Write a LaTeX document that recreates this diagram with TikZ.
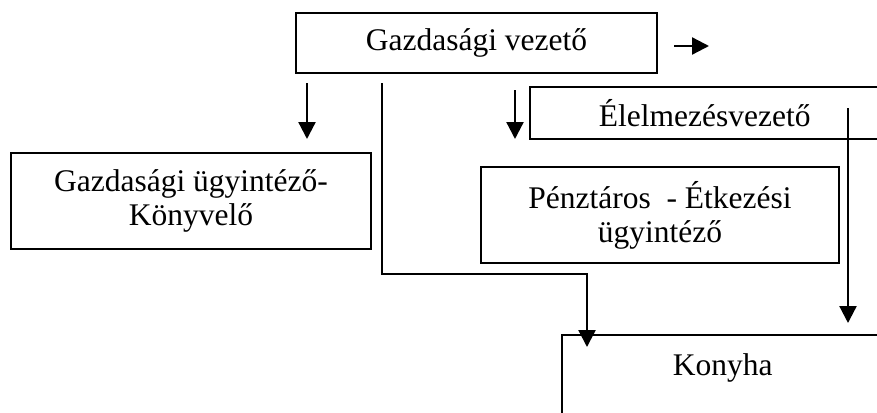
\documentclass[tikz,border=0pt]{standalone}
\usepackage{fontspec}
\setmainfont{Liberation Serif}
\usetikzlibrary{arrows.meta}
\begin{document}
\begin{tikzpicture}[x=1pt,y=-1pt,
  box/.style={draw, line width=1.7pt, font=\fontsize{31.5}{34}\selectfont, align=center, inner sep=0pt},
  link/.style={line width=2.3pt},
  arr/.style={link, -{Triangle[width=17pt,length=17pt]}}]
\useasboundingbox (0,0) rectangle (877,412);
\clip (0,0) rectangle (877,412);

% boxes
\node[box, minimum width=361, minimum height=60] (gv) at (476.5,43) {Gazdasági vezető};
\node[box, minimum width=360, minimum height=96] (gu) at (191,201) {Gazdasági ügyintéző-\\Könyvelő};
\node[box, anchor=west, align=left, text width=300, inner xsep=69, minimum height=52] (el) at (529,113) {Élelmezésvezető};
\node[box, minimum width=358, minimum height=96] (pt) at (660,215) {Pénztáros\ \ - Étkezési\\ügyintéző};
\node[box, anchor=north west, minimum width=322, text height=21, text depth=80, inner ysep=20] (ko) at (561,334) {Konyha};

% connector ends
\coordinate (r0) at (674,46);  \coordinate (r1) at (709,46);
\coordinate (a0) at (307,83);  \coordinate (a1) at (307,139);
\coordinate (b0) at (382,83);  \coordinate (b1) at (587,274); \coordinate (b2) at (587,347);
\coordinate (c0) at (515,90);  \coordinate (c1) at (515,139);
\coordinate (d0) at (848,108); \coordinate (d1) at (848,323);

% connectors
\draw[arr] (r0) -- (r1);
\draw[arr] (a0) -- (a1);
\draw[arr] (b0) |- (b1) -- (b2);
\draw[arr] (c0) -- (c1);
\draw[arr] (d0) -- (d1);
\end{tikzpicture}
\end{document}
